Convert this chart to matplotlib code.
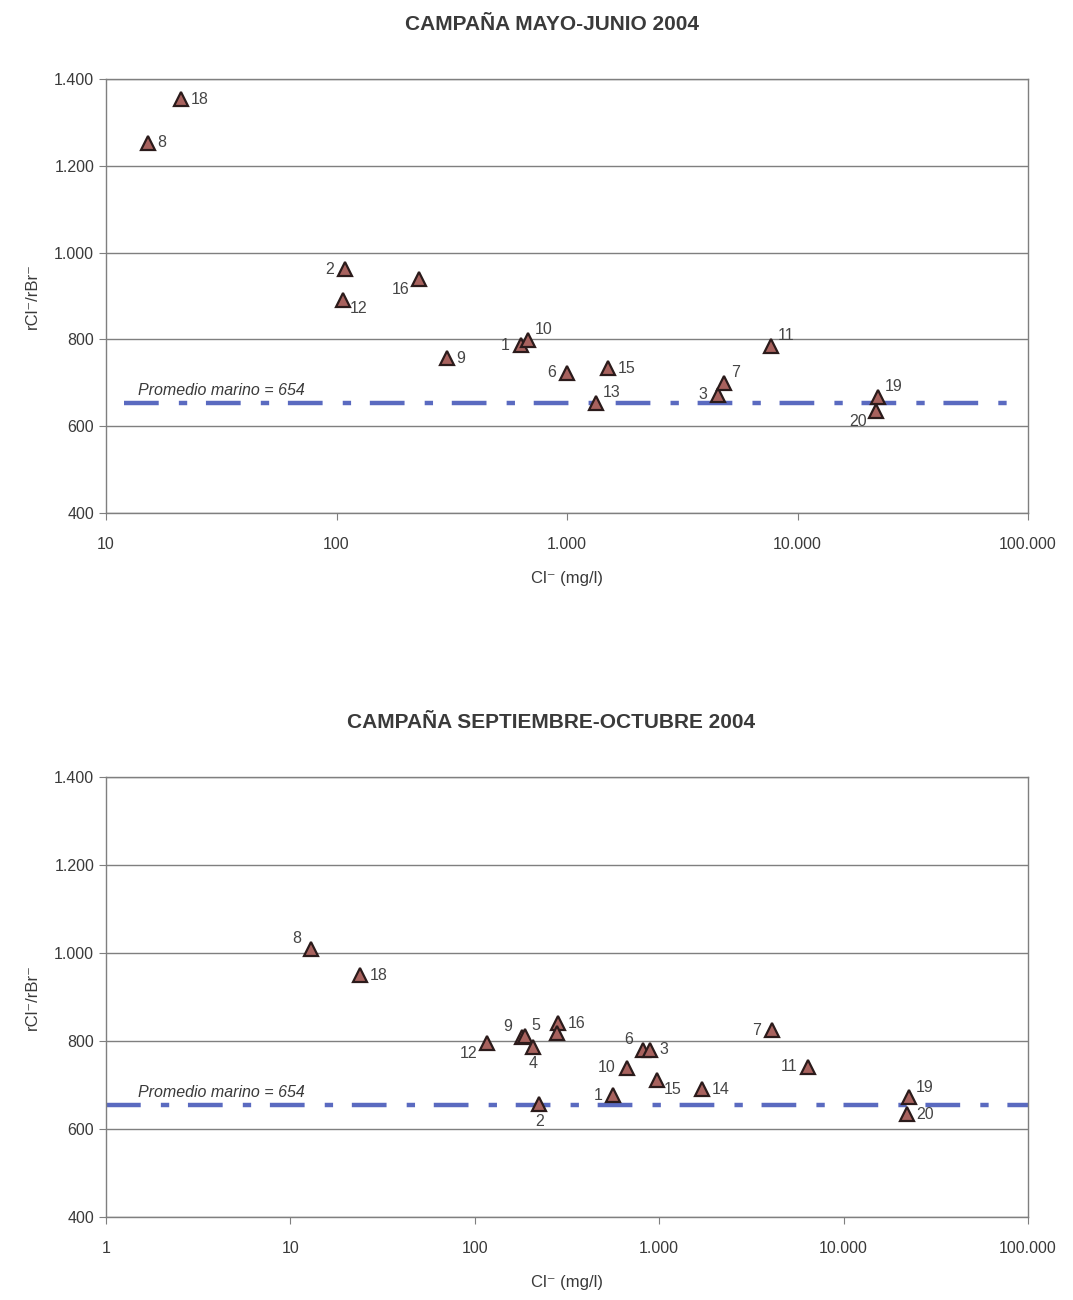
import matplotlib
matplotlib.use("Agg")
import matplotlib.pyplot as plt
from matplotlib.ticker import FixedLocator, FuncFormatter, NullLocator

plt.rcParams['font.family'] = ['Liberation Sans', 'DejaVu Sans']
plt.rcParams['lines.scale_dashes'] = False

# ---- data: campaign May-June 2004 ----
top_ids = ['18', '8', '2', '16', '12', '9', '1', '10', '6', '13', '15', '3', '7', '11', '19', '20']
top_cl = [21.1, 15.2, 109, 228, 107, 301, 631, 677, 1000, 1336, 1507, 4518, 4800, 7670, 22300, 22000]
top_ratio = [1354, 1253, 962, 939, 891, 757, 787, 799, 723, 653, 734, 672, 700, 785, 667, 635]
top_lab_pos = ['r', 'r', 'l', 'ld', 'rd', 'r', 'l', 'ru', 'l', 'ru', 'r', 'l', 'ru', 'ru', 'ru', 'ld']

# ---- data: campaign September-October 2004 ----
bot_ids = ['8', '18', '12', '9', '5', '4', '16', '17', '6', '3', '10', '15', '1', '2', '14', '7', '11', '19', '20']
bot_cl = [12.9, 23.8, 116, 180, 186, 208, 284, 278, 820, 891, 666, 969, 564, 224, 1700, 4074, 6440, 22700, 22000]
bot_ratio = [1009, 950, 796, 810, 812, 787, 840, 818, 780, 780, 739, 711, 677, 657, 690, 825, 742, 672, 634]
bot_lab_pos = ['lu', 'r', 'ld', 'lu', 'ru', 'b', 'r', None, 'lu', 'r', 'l', 'rd', 'l', 'b', 'r', 'l', 'l', 'ru', 'r']

marine_mean = 654
y_ticks = [400, 600, 800, 1000, 1200, 1400]
top_xticks = [10, 100, 1000, 10000, 100000]
bot_xticks = [1, 10, 100, 1000, 10000, 100000]

titles = ['CAMPAÑA MAYO-JUNIO 2004', 'CAMPAÑA SEPTIEMBRE-OCTUBRE 2004']
xlabel = 'Cl\u207b (mg/l)'
ylabel = 'rCl\u207b/rBr\u207b'
line_label = 'Promedio marino = 654'

GRAY = '#7f7f7f'
TXT = '#3a3a3a'


def thousands(v, pos=None):
    return f'{int(round(v)):,}'.replace(',', '.')


OFFS = {
    'r': ((7, 0), 'left', 'center'),
    'l': ((-8, 0), 'right', 'center'),
    'ru': ((5, 2), 'left', 'bottom'),
    'rd': ((5, -1), 'left', 'top'),
    'lu': ((-7, 2), 'right', 'bottom'),
    'ld': ((-7, -2), 'right', 'top'),
    'b': ((0, -7), 'center', 'top'),
}

fig = plt.figure(figsize=(10.73, 13), dpi=100)
ax1 = fig.add_axes([0.0988, 0.6054, 0.8593, 0.3338])
ax2 = fig.add_axes([0.0988, 0.0638, 0.8593, 0.3385])


def draw(ax, xs, ys, ids, pos, xticks, xlim, linex):
    ax.set_xscale('log')
    ax.set_xlim(*xlim)
    ax.set_ylim(400, 1400)
    ax.xaxis.set_major_locator(FixedLocator(xticks))
    ax.xaxis.set_minor_locator(NullLocator())
    ax.xaxis.set_major_formatter(FuncFormatter(thousands))
    ax.yaxis.set_major_locator(FixedLocator(y_ticks))
    ax.yaxis.set_major_formatter(FuncFormatter(thousands))
    ax.grid(axis='y', color=GRAY, linewidth=1.0)
    ax.set_axisbelow(True)
    for s in ax.spines.values():
        s.set_color(GRAY)
        s.set_linewidth(1.0)
    ax.tick_params(axis='both', colors=GRAY, labelcolor=TXT, labelsize=11.5, length=5, direction='out')
    ax.tick_params(axis='x', pad=12)
    ax.set_xlabel(xlabel, fontsize=12, color=TXT, labelpad=14)
    ax.set_ylabel(ylabel, fontsize=12, color=TXT, labelpad=10)

    ax.axhline(marine_mean, xmin=linex[0], xmax=linex[1], color='#5a6ac0', linewidth=3.2,
               dashes=(25, 14.5, 6, 13.5), zorder=2)
    ax.text(0.035, marine_mean + 12, line_label, transform=ax.get_yaxis_transform(),
            fontsize=11.5, style='italic', color=TXT, ha='left', va='bottom')

    ax.plot(xs, ys, linestyle='none', marker='^', markersize=9.5, markerfacecolor='#a8625e',
            markeredgecolor='#2b1b1b', markeredgewidth=1.6, zorder=3)
    for x, y, t, p in zip(xs, ys, ids, pos):
        if p is None:
            continue
        (dx, dy), ha, va = OFFS[p]
        ax.annotate(t, (x, y), xytext=(dx, dy), textcoords='offset points', ha=ha, va=va,
                    fontsize=11.5, color='#454545', zorder=4)


draw(ax1, top_cl, top_ratio, top_ids, top_lab_pos, top_xticks, (10, 100000), (0.02, 0.985))
draw(ax2, bot_cl, bot_ratio, bot_ids, bot_lab_pos, bot_xticks, (1, 100000), (0.0, 1.0))

fig.text(0.514, 0.981, titles[0], ha='center', va='center', fontsize=15, fontweight='bold', color=TXT)
fig.text(0.514, 0.444, titles[1], ha='center', va='center', fontsize=15, fontweight='bold', color=TXT)

fig.savefig('out.png', dpi=100, facecolor='white')
